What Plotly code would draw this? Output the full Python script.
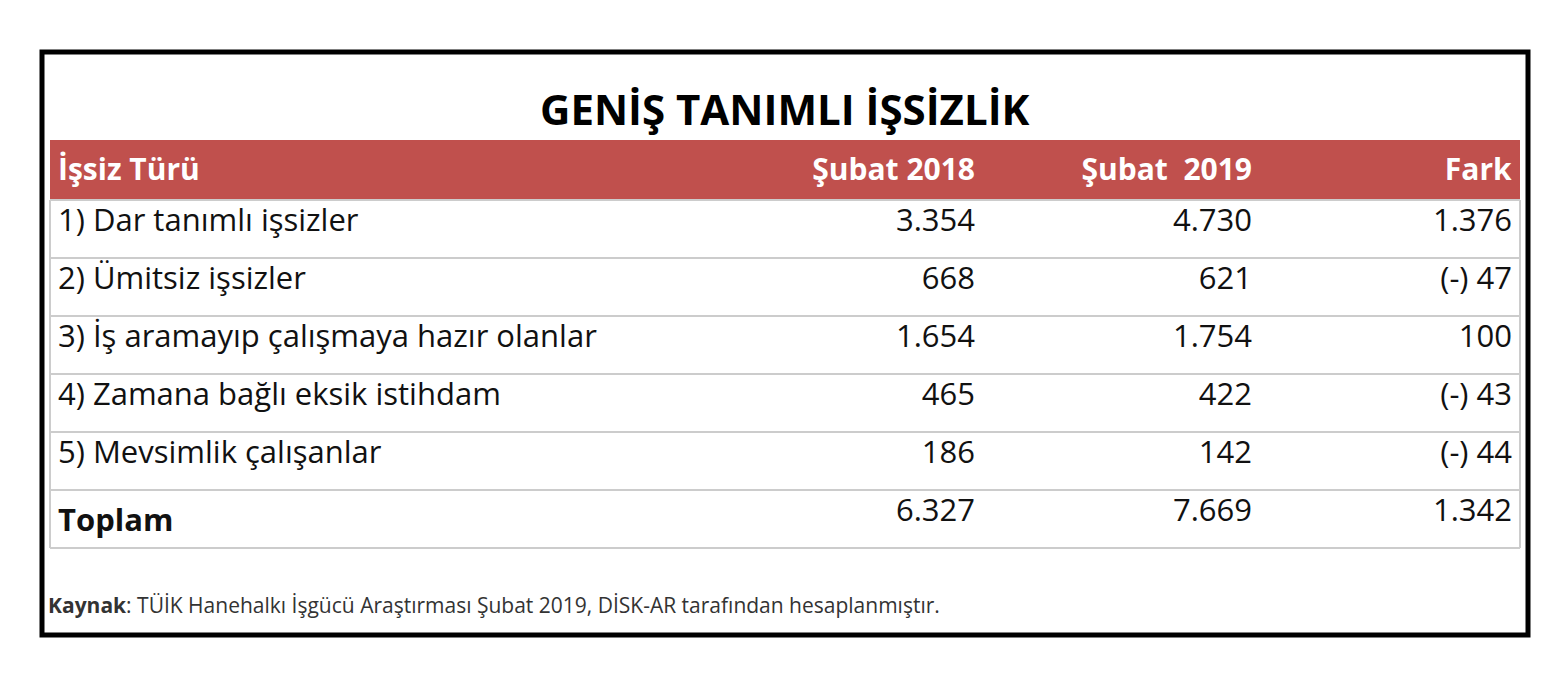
import plotly.graph_objects as go

title = "GENİŞ TANIMLI İŞSİZLİK"
headers = ["İşsiz Türü", "Şubat 2018", "Şubat  2019", "Fark"]
categories = ["1) Dar tanımlı işsizler", "2) Ümitsiz işsizler",
              "3) İş aramayıp çalışmaya hazır olanlar", "4) Zamana bağlı eksik istihdam",
              "5) Mevsimlik çalışanlar", "<b>Toplam</b>"]
feb2018 = ["3.354", "668", "1.654", "465", "186", "6.327"]
feb2019 = ["4.730", "621", "1.754", "422", "142", "7.669"]
fark = ["1.376", "(-) 47", "100", "(-) 43", "(-) 44", "1.342"]
source = "<b>Kaynak</b>: TÜİK Hanehalkı İşgücü Araştırması Şubat 2019, DİSK-AR tarafından hesaplanmıştır."

W, H = 1557, 675
OFF = 8  # page body margin
x0, x1 = 50 - OFF, 1520 - OFF
ytop, hdr_h, row_h = 140 - OFF, 60, 58
n = len(categories)
ybot = ytop + hdr_h + n * row_h
FONT = "Open Sans"

fig = go.Figure(go.Table(
    domain=dict(x=[x0 / W, x1 / W], y=[1 - (ybot + 2) / H, 1 - ytop / H]),
    columnwidth=[670, 263, 277, 260],
    header=dict(values=[f"<b>{h}</b>" for h in headers], fill_color="#c0504d",
                line=dict(color="#c0504d", width=0), height=hdr_h,
                align=["left", "right", "right", "right"],
                font=dict(family=FONT, size=30, color="white")),
    cells=dict(values=[categories, feb2018, feb2019, fark], fill_color="white",
               line=dict(color="white", width=0), height=row_h,
               align=["left", "right", "right", "right"],
               font=dict(family=FONT, size=31, color="#111111")),
))

shapes = [dict(type="rect", xref="paper", yref="paper", x0=(42 - OFF) / W, x1=(1528 - OFF) / W,
               y0=1 - (635 - OFF) / H, y1=1 - (52 - OFF) / H, line=dict(color="black", width=5))]
for i in range(n + 1):
    y = ytop + hdr_h + i * row_h
    shapes.append(dict(type="line", xref="paper", yref="paper", x0=x0 / W, x1=x1 / W,
                       y0=1 - y / H, y1=1 - y / H, line=dict(color="#cccccc", width=2)))
for xx in (x0, x1):
    shapes.append(dict(type="line", xref="paper", yref="paper", x0=xx / W, x1=xx / W,
                       y0=1 - ybot / H, y1=1 - (ytop + hdr_h) / H, line=dict(color="#cccccc", width=2)))

fig.update_layout(
    width=W, height=H, margin=dict(l=0, r=0, t=0, b=0),
    paper_bgcolor="white", plot_bgcolor="white", shapes=shapes,
    annotations=[
        dict(text=f"<b>{title}</b>", x=0.5 * (x0 + x1) / W, y=1 - (108 - OFF) / H, xref="paper", yref="paper",
             yanchor="middle", showarrow=False, font=dict(family=FONT, size=42, color="black")),
        dict(text=source, x=(46 - OFF) / W, y=1 - (605 - OFF) / H, xref="paper", yref="paper",
             xanchor="left", yanchor="middle", showarrow=False,
             font=dict(family=FONT, size=21, color="#333333")),
    ],
)
fig.write_html("out.html")
